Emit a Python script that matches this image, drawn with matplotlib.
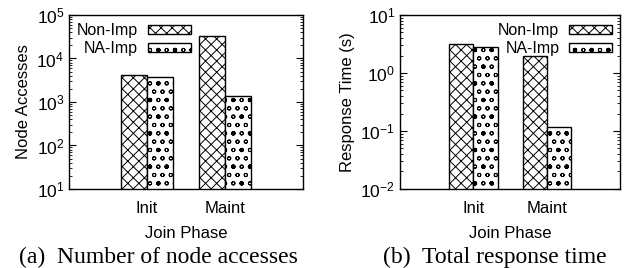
import numpy as np
import matplotlib
matplotlib.use("Agg")
import matplotlib.pyplot as plt
from matplotlib.ticker import LogLocator

phases = ["Init", "Maint"]
series = ["Non-Imp", "NA-Imp"]
node_acc_non = [4270, 33000]
node_acc_na = [3850, 1380]
resp_non = [3.13, 2.0]
resp_na = [2.84, 0.116]

plt.rcParams['font.family'] = 'Liberation Sans'
plt.rcParams['mathtext.fontset'] = 'custom'
plt.rcParams['mathtext.rm'] = 'Liberation Sans'
plt.rcParams['mathtext.it'] = 'Liberation Sans'
plt.rcParams['hatch.linewidth'] = 0.7
plt.rcParams['axes.linewidth'] = 1.0

fs = 12
hatches = ["xxx", "oo."]

def make_panel(ax, non, na, ylim, ylabel, legend_loc, legend_anchor):
    x = np.arange(len(phases))
    w = 0.33
    ax.bar(x - w / 2, non, w, color="white", edgecolor="black", linewidth=1.0,
           hatch=hatches[0], label=series[0])
    ax.bar(x + w / 2, na, w, color="white", edgecolor="black", linewidth=1.0,
           hatch=hatches[1], label=series[1])
    ax.set_yscale("log")
    ax.set_ylim(*ylim)
    ax.yaxis.set_major_locator(LogLocator(base=10, numticks=12))
    ax.yaxis.set_minor_locator(LogLocator(base=10, subs=np.arange(2, 10), numticks=12))
    ax.set_xlim(-1, 2)
    ax.set_xticks(x)
    ax.set_xticklabels(phases, fontsize=fs)
    ax.tick_params(axis="x", length=0, pad=9)
    ax.tick_params(axis="y", which="both", direction="in", right=True, labelsize=12.5)
    ax.tick_params(axis="y", which="major", length=5)
    ax.tick_params(axis="y", which="minor", length=2.5)
    ax.set_ylabel(ylabel, fontsize=fs)
    ax.set_xlabel("Join Phase", fontsize=fs, labelpad=7)
    ax.legend(loc=legend_loc, bbox_to_anchor=legend_anchor, frameon=False,
              markerfirst=False, fontsize=11.5, handlelength=2.7, handleheight=0.5,
              handletextpad=0.6, labelspacing=0.2, borderaxespad=0.1)

fig = plt.figure(figsize=(6.34, 2.68), dpi=100)
ax1 = fig.add_axes([0.109, 0.295, 0.369, 0.649])
ax2 = fig.add_axes([0.631, 0.295, 0.347, 0.649])

make_panel(ax1, node_acc_non, node_acc_na, (10, 1e5), "Node Accesses", "upper left", (0.0, 1.0))
make_panel(ax2, resp_non, resp_na, (1e-2, 10), "Response Time (s)", "upper right", (1.0, 1.0))

fig.text(0.250, 0.040, "(a)  Number of node accesses", family="Liberation Serif",
         fontsize=17, ha="center", va="center")
fig.text(0.780, 0.040, "(b)  Total response time", family="Liberation Serif",
         fontsize=17, ha="center", va="center")

plt.savefig("out.png", dpi=100)
